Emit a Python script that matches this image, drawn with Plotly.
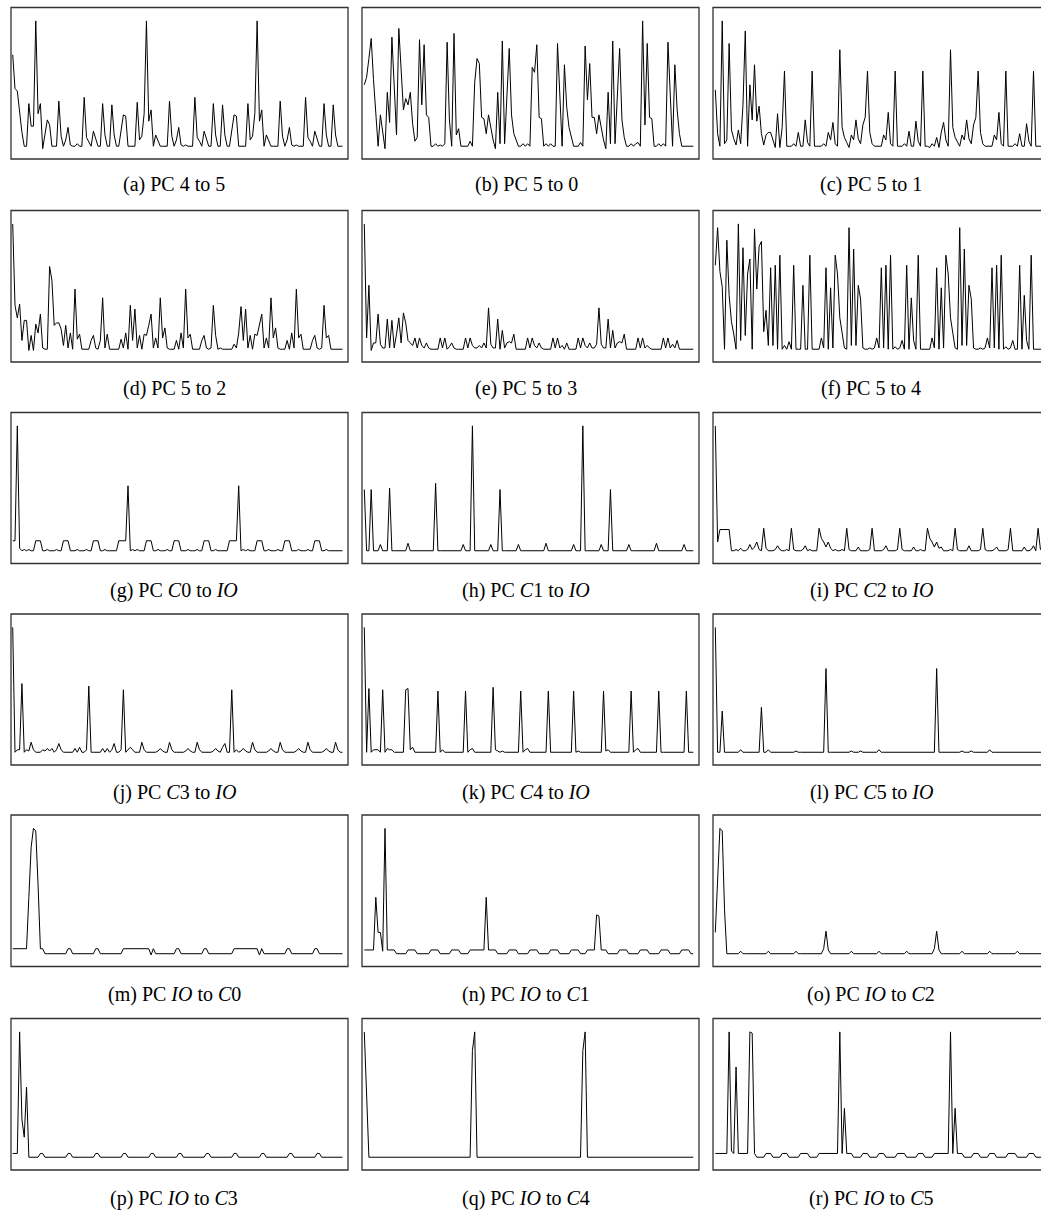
import plotly.graph_objects as go

# values, 0 = baseline, 100 = tallest spike of that panel
pc_4_5 = [73, 46, 44, 25, 11, 0, 0, 34, 16, 16, 100, 26,
          34, -2, 11, 21, 17, 0, 0, 0, 36, 8, 0, 5,
          15, 1, 0, 0, 2, 0, 0, 39, 7, 4, 0, 12,
          5, 0, 0, 34, 9, 0, 0, 33, 9, 0, 0, 12,
          25, 24, 0, 0, 0, 0, 35, 5, 8, 26, 100, 20,
          29, 0, 9, 4, 0, 0, 0, 0, 36, 8, 0, 5,
          15, 1, 0, 1, 0, 0, 0, 39, 7, 4, 0, 12,
          5, 0, 0, 34, 9, 0, 0, 33, 9, 0, 0, 12,
          25, 24, 0, 0, 0, 0, 34, 5, 8, 26, 100, 20,
          29, 0, 9, 4, 0, 0, 0, 0, 36, 8, 0, 5,
          15, 1, 0, 1, 0, 0, 0, 39, 7, 4, 0, 12,
          5, 0, 0, 34, 9, 0, 0, 33, 9, 0, 0, 0]

pc_5_0 = [49, 55, 70, 86, 53, 26, 0, 25, 9, -2, 43, 19,
          87, 45, 9, 94, 59, 29, 38, 33, 43, 18, 4, 7,
          85, 33, 81, 25, 23, 0, 0, 2, 0, 1, 0, 2,
          83, 21, 0, 90, 9, 14, 0, 0, 0, 0, 4, 0,
          51, 70, 66, 23, 22, 10, 25, 14, 5, -2, 43, 2,
          84, 2, 39, 78, 25, 10, 5, 0, 0, 2, 0, 2,
          0, 63, 59, 81, 23, 22, 0, 2, 0, 2, 0, 0,
          82, 42, 0, 65, 31, 15, 7, 0, 0, 0, 3, 0,
          80, 37, 66, 23, 23, 10, 25, 14, 5, -2, 43, 2,
          84, 2, 39, 78, 21, 7, 0, 0, 2, 0, 2, 3,
          0, 100, 17, 82, 23, 22, 0, 0, 2, 0, 2, 0,
          83, 37, 0, 65, 29, 10, 0, 0, 0, 0, 0, 0]

pc_5_1 = [45, 10, 0, 100, 2, 5, 82, 13, 6, 1, 13, 2,
          33, 92, 0, 49, 21, 65, 20, 32, 10, 1, 9, 11,
          11, 5, -1, 26, -1, 15, 60, 0, 0, 0, 2, 0,
          11, 0, 0, 21, 3, 0, 60, 0, 0, 0, 0, 2,
          0, 11, 5, 19, 2, 0, 77, 15, 7, 3, -1, 9,
          5, 21, 6, 2, 17, 23, 60, 11, 2, 0, 0, 0,
          0, 9, 5, 27, 2, 0, 60, 0, 0, 0, 2, 0,
          12, 0, 0, 20, 4, 0, 60, 0, 0, -1, 2, 0,
          7, -1, 11, 19, 5, 0, 77, 15, 7, 3, 0, 9,
          5, 21, 6, 2, 17, 23, 60, 11, 2, 0, 0, 0,
          0, 9, 5, 27, 2, 0, 60, 0, 0, 0, 2, 0,
          10, 0, 0, 18, 4, 0, 60, 0, 0, 0, 0, 0]

pc_5_2 = [100, 35, 25, 36, 7, 23, 23, -1, 11, -1, 20, 13,
          28, 1, 0, 0, 66, 55, 19, 21, 21, 16, 3, 19,
          1, 13, 0, 48, 8, 12, 0, 0, 0, 0, 7, 11,
          1, 0, 7, 41, 1, 12, 0, 0, 0, 0, 0, 8,
          1, 13, 0, 35, 7, 32, 1, 11, 0, 12, 11, 19,
          28, 1, 9, 1, 41, 9, 17, 1, 0, 0, 0, 7,
          0, 13, 1, 48, 9, 12, 0, 0, 0, 0, 7, 11,
          1, 0, 1, 35, 11, 0, 1, 0, 0, 0, 0, 0,
          4, 1, 13, 34, 7, 32, 1, 11, 0, 12, 11, 19,
          28, 1, 9, 1, 41, 9, 17, 1, 0, 0, 0, 7,
          0, 13, 1, 48, 9, 12, 0, 0, 0, 0, 7, 11,
          1, 0, 1, 35, 9, 11, 0, 0, 0, 0, 0, 0]

pc_5_3 = [100, 9, 51, -1, 5, 5, 28, 4, 1, 1, 24, 1,
          23, 1, 12, 25, 5, 29, 21, 7, 5, 3, 9, 1,
          9, 3, 1, 5, 1, 0, 0, 0, 0, 9, 1, 9,
          0, 2, 5, 1, 0, 0, 0, 0, 9, 1, 9, 3,
          1, 1, 3, 1, 5, 1, 33, 4, 1, 1, 24, 0,
          15, 1, 5, 6, 5, 12, 0, 0, 0, 0, 0, 9,
          1, 9, 3, 1, 5, 1, 0, 0, 0, 0, 9, 1,
          9, 1, 3, 0, 5, 0, 0, 0, 0, 9, 1, 9,
          3, 1, 5, 1, 1, 4, 33, 4, 1, 1, 24, 1,
          15, 1, 5, 6, 5, 12, 0, 0, 0, 0, 0, 9,
          1, 9, 1, 3, 1, 0, 0, 0, 0, 0, 9, 1,
          9, 1, 4, 1, 7, 0, 0, 0, 0, 0, 0, 0]

pc_5_4 = [67, 97, 62, 50, 0, 87, 43, 22, 12, 0, 100, 7,
          81, 11, 60, 72, 0, 96, 48, 82, 86, 14, 31, 3,
          65, 3, 67, 0, 75, 0, 3, 0, 6, 0, 67, 0,
          0, 0, 51, 0, 0, 75, 0, 0, 0, 0, 9, 1,
          65, 0, 49, 1, 75, 60, 25, 13, 1, 0, 97, 3,
          80, 3, 51, 40, 1, 0, 0, 1, 0, 1, 9, 1,
          65, 1, 67, 0, 75, 0, 2, 0, 1, 7, 0, 67,
          0, 41, 7, 0, 75, 0, 0, 0, 0, 0, 9, 1,
          65, 0, 49, 1, 75, 60, 25, 13, 1, 0, 97, 3,
          80, 3, 51, 40, 1, 0, 0, 1, 0, 1, 9, 1,
          65, 1, 67, 0, 75, 0, 2, 0, 1, 7, 0, 0,
          67, 0, 43, 7, 0, 75, 0, 0, 0, 0, 0, 0]

pc_c0_io = [8, 8, 100, 2, 0, 1, 0, 1, 0, 0, 8, 8,
            8, 0, 0, 1, 0, 0, 0, 1, 0, 0, 8, 8,
            8, 0, 0, 0, 1, 0, 0, 0, 1, 0, 0, 8,
            8, 8, 0, 0, 1, 0, 0, 0, 0, 0, 8, 8,
            8, 8, 52, 0, 1, 0, 1, 0, 0, 0, 8, 8,
            8, 0, 0, 1, 0, 0, 0, 1, 0, 0, 8, 8,
            8, 0, 0, 0, 1, 0, 0, 0, 1, 0, 0, 8,
            8, 8, 0, 0, 1, 0, 0, 0, 0, 0, 8, 8,
            8, 8, 52, 0, 1, 0, 1, 0, 0, 0, 8, 8,
            8, 0, 0, 1, 0, 0, 0, 1, 0, 0, 8, 8,
            8, 0, 0, 0, 1, 0, 0, 0, 1, 0, 0, 8,
            8, 8, 0, 0, 1, 0, 0, 0, 0, 0, 0, 0]

pc_c1_io = [49, 0, 0, 49, 0, 0, 0, 5, 0, 0, 0, 50,
            0, 0, 0, 0, 0, 0, 0, 6, 0, 0, 0, 0,
            0, 0, 0, 0, 0, 0, 0, 54, 0, 0, 0, 0,
            0, 0, 0, 0, 0, 0, 0, 5, 0, 0, 0, 100,
            0, 0, 0, 0, 0, 0, 0, 5, 0, 0, 0, 49,
            0, 0, 0, 0, 0, 0, 0, 5, 0, 0, 0, 0,
            0, 0, 0, 0, 0, 0, 0, 6, 0, 0, 0, 0,
            0, 0, 0, 0, 0, 0, 0, 5, 0, 0, 0, 100,
            0, 0, 0, 0, 0, 0, 0, 5, 0, 0, 0, 49,
            0, 0, 0, 0, 0, 0, 0, 5, 0, 0, 0, 0,
            0, 0, 0, 0, 0, 0, 0, 6, 0, 0, 0, 0,
            0, 0, 0, 0, 0, 0, 0, 5, 0, 0, 0, 0]

pc_c2_io = [100, 7, 17, 17, 17, 17, 17, 0, 0, 1, 0, 2,
            0, 0, 1, 5, 1, 3, 7, 1, 0, 18, 2, 0,
            0, 0, 1, 4, 1, 0, 0, 1, 0, 18, 1, 0,
            0, 0, 1, 4, 0, 1, 0, 0, 0, 18, 10, 7,
            3, 7, 2, 0, 1, 0, 0, 1, 0, 18, 1, 0,
            0, 0, 3, 0, 0, 0, 0, 1, 18, 0, 0, 0,
            0, 1, 4, 0, 0, 0, 0, 1, 18, 1, 0, 0,
            0, 0, 3, 0, 0, 1, 0, 0, 18, 10, 7, 3,
            7, 2, 3, 0, 0, 0, 1, 0, 18, 1, 0, 0,
            0, 0, 4, 0, 0, 0, 0, 1, 18, 1, 0, 0,
            0, 1, 3, 0, 0, 0, 0, 1, 18, 0, 0, 0,
            0, 0, 3, 0, 0, 1, 4, 0, 18, 1, 0, 0]

pc_c3_io = [100, 0, 2, 2, 55, 0, 2, 1, 8, 2, 0, 0,
            0, 2, 1, 3, 1, 3, 0, 2, 7, 2, 0, 0,
            0, 0, 0, 3, 0, 4, 0, 0, 2, 53, 0, 0,
            0, 0, 0, 3, 0, 3, 0, 2, 7, 0, 0, 2,
            50, 0, 2, 4, 2, 0, 0, 0, 8, 2, 0, 0,
            0, 0, 0, 1, 3, 1, 0, 0, 8, 2, 0, 0,
            0, 0, 0, 1, 3, 1, 0, 0, 8, 2, 0, 0,
            0, 0, 0, 1, 3, 1, 0, 4, 7, 0, 0, 50,
            0, 2, 0, 1, 3, 1, 0, 0, 8, 2, 0, 0,
            0, 0, 0, 1, 3, 1, 0, 0, 8, 2, 0, 0,
            0, 0, 0, 1, 3, 1, 0, 0, 8, 2, 0, 0,
            0, 0, 0, 1, 3, 1, 0, 0, 8, 2, 0, 0]

pc_c4_io = [100, 0, 51, 0, 2, 2, 2, 0, 50, 0, 3, 2,
            2, 0, 0, 0, 0, 0, 50, 51, 2, 4, 0, 0,
            0, 0, 0, 0, 0, 0, 0, 0, 49, 0, 2, 0,
            0, 0, 0, 0, 0, 0, 0, 0, 49, 0, 2, 3,
            0, 0, 0, 0, 0, 0, 0, 0, 52, 2, 1, 0,
            1, 0, 0, 0, 0, 0, 0, 0, 49, 0, 2, 3,
            0, 0, 0, 0, 0, 0, 0, 0, 49, 0, 0, 0,
            0, 0, 0, 0, 0, 0, 0, 49, 0, 1, 0, 0,
            0, 0, 0, 0, 0, 0, 0, 0, 49, 1, 2, 0,
            0, 0, 0, 0, 0, 0, 0, 0, 49, 0, 2, 3,
            0, 0, 0, 0, 0, 0, 0, 0, 49, 0, 0, 0,
            0, 0, 0, 0, 0, 0, 0, 0, 49, 0, 0, 0]

pc_c5_io = [100, 0, 0, 33, 0, 0, 0, 0, 0, 0, 0, 2,
            0, 0, 0, 0, 0, 0, 0, 0, 36, 0, 0, 2,
            0, 0, 0, 0, 0, 0, 0, 0, 0, 0, 0, 1,
            0, 0, 0, 0, 0, 0, 0, 0, 0, 0, 0, 0,
            67, 0, 0, 0, 0, 0, 0, 0, 0, 0, 0, 1,
            0, 0, 0, 1, 0, 0, 0, 0, 0, 0, 0, 2,
            0, 0, 0, 0, 0, 0, 0, 0, 0, 0, 0, 0,
            0, 0, 0, 0, 0, 0, 0, 0, 0, 0, 0, 0,
            67, 0, 0, 0, 0, 0, 0, 0, 0, 0, 0, 1,
            0, 0, 0, 1, 0, 0, 0, 0, 0, 0, 0, 2,
            0, 0, 0, 0, 0, 0, 0, 0, 0, 0, 0, 0,
            0, 0, 0, 0, 0, 0, 0, 0, 0, 0, 0, 0]

pc_io_c0 = [4, 4, 4, 4, 4, 4, 4, 45, 85, 100, 98, 55,
            4, 4, 0, 0, 0, 0, 0, 0, 0, 0, 0, 0,
            4, 4, 0, 0, 0, 0, 0, 0, 0, 0, 0, 0,
            4, 4, 0, 0, 0, 0, 0, 0, 0, 0, 0, 0,
            4, 4, 4, 4, 4, 4, 4, 4, 4, 4, 4, 4,
            -1, 4, 0, 0, 0, 0, 0, 0, 0, 0, 0, 4,
            4, 0, 0, 0, 0, 0, 0, 0, 0, 0, 0, 4,
            4, 0, 0, 0, 0, 0, 0, 0, 0, 0, 0, 0,
            4, 4, 4, 4, 4, 4, 4, 4, 4, 4, 4, -1,
            4, 0, 0, 0, 0, 0, 0, 0, 0, 0, 0, 4,
            4, 0, 0, 0, 0, 0, 0, 0, 0, 0, 0, 4,
            4, 0, 0, 0, 0, 0, 0, 0, 0, 0, 0, 0]

pc_io_c1 = [3, 3, 3, 3, 3, 45, 17, 17, 2, 100, 3, 3,
            3, 3, 0, 0, 0, 0, 0, 3, 3, 3, 3, 0,
            0, 0, 0, 0, 0, 3, 3, 3, 3, 0, 0, 0,
            0, 0, 3, 3, 3, 3, 0, 0, 0, 0, 3, 3,
            3, 3, 3, 3, 3, 45, 3, 3, 3, 3, 0, 0,
            0, 0, 0, 3, 3, 3, 3, 0, 0, 0, 0, 0,
            3, 3, 3, 3, 0, 0, 0, 0, 0, 3, 3, 3,
            3, 0, 0, 0, 0, 0, 3, 3, 3, 3, 0, 0,
            0, 3, 3, 3, 3, 31, 30, 3, 3, 3, 0, 0,
            0, 0, 0, 3, 3, 3, 3, 0, 0, 0, 0, 0,
            3, 3, 3, 3, 0, 0, 0, 0, 0, 3, 3, 3,
            3, 0, 0, 0, 0, 0, 3, 3, 3, 3, 0, 0]

pc_io_c2 = [17, 60, 100, 98, 35, 0, 0, 0, 0, 0, 0, 2,
            0, 0, 0, 0, 0, 0, 0, 0, 0, 0, 0, 2,
            0, 0, 0, 0, 0, 0, 0, 0, 0, 0, 0, 2,
            0, 0, 0, 0, 0, 0, 0, 0, 0, 0, 0, 4,
            18, 3, 0, 0, 0, 0, 0, 0, 0, 0, 0, 2,
            0, 0, 0, 0, 0, 0, 0, 0, 0, 0, 0, 2,
            0, 0, 0, 0, 0, 0, 0, 0, 0, 0, 0, 2,
            0, 0, 0, 0, 0, 0, 0, 0, 0, 0, 0, 4,
            18, 3, 0, 0, 0, 0, 0, 0, 0, 0, 0, 2,
            0, 0, 0, 0, 0, 0, 0, 0, 0, 0, 0, 2,
            0, 0, 0, 0, 0, 0, 0, 0, 0, 0, 0, 2,
            0, 0, 0, 0, 0, 0, 0, 0, 0, 0, 0, 2]

pc_io_c3 = [3, 3, 3, 100, 30, 16, 56, 0, 0, 0, 0, 0,
            3, 3, 0, 0, 0, 0, 0, 0, 0, 0, 0, 0,
            3, 3, 0, 0, 0, 0, 0, 0, 0, 0, 0, 0,
            3, 3, 0, 0, 0, 0, 0, 0, 0, 0, 0, 0,
            3, 3, 0, 0, 0, 0, 0, 0, 0, 0, 0, 0,
            3, 3, 0, 0, 0, 0, 0, 0, 0, 0, 0, 0,
            3, 3, 0, 0, 0, 0, 0, 0, 0, 0, 0, 0,
            3, 3, 0, 0, 0, 0, 0, 0, 0, 0, 0, 0,
            3, 3, 0, 0, 0, 0, 0, 0, 0, 0, 0, 0,
            3, 3, 0, 0, 0, 0, 0, 0, 0, 0, 0, 0,
            3, 3, 0, 0, 0, 0, 0, 0, 0, 0, 0, 0,
            3, 3, 0, 0, 0, 0, 0, 0, 0, 0, 0, 0]

pc_io_c4 = [100, 56, 0, 0, 0, 0, 0, 0, 0, 0, 0, 0,
            0, 0, 0, 0, 0, 0, 0, 0, 0, 0, 0, 0,
            0, 0, 0, 0, 0, 0, 0, 0, 0, 0, 0, 0,
            0, 0, 0, 0, 0, 0, 0, 0, 0, 0, 0, 85,
            100, 0, 0, 0, 0, 0, 0, 0, 0, 0, 0, 0,
            0, 0, 0, 0, 0, 0, 0, 0, 0, 0, 0, 0,
            0, 0, 0, 0, 0, 0, 0, 0, 0, 0, 0, 0,
            0, 0, 0, 0, 0, 0, 0, 0, 0, 0, 0, 85,
            100, 0, 0, 0, 0, 0, 0, 0, 0, 0, 0, 0,
            0, 0, 0, 0, 0, 0, 0, 0, 0, 0, 0, 0,
            0, 0, 0, 0, 0, 0, 0, 0, 0, 0, 0, 0,
            0, 0, 0, 0, 0, 0, 0, 0, 0, 0, 0, 0]

pc_io_c5 = [3, 3, 3, 3, 3, 3, 100, 5, 3, 72, 3, 3,
            3, 3, 3, 100, 99, 3, 0, 0, 0, 0, 3, 3,
            3, 0, 0, 0, 0, 3, 3, 3, 0, 0, 0, 0,
            0, 3, 3, 3, 3, 0, 0, 0, 0, 3, 3, 3,
            3, 3, 3, 3, 3, 3, 100, 3, 39, 3, 3, 3,
            0, 0, 0, 0, 3, 3, 3, 0, 0, 0, 0, 3,
            3, 3, 0, 0, 0, 0, 0, 3, 3, 3, 3, 0,
            0, 0, 0, 0, 3, 3, 3, 0, 0, 0, 0, 3,
            3, 3, 3, 3, 3, 3, 100, 3, 39, 3, 3, 3,
            0, 0, 0, 0, 3, 3, 3, 0, 0, 0, 0, 3,
            3, 3, 0, 0, 0, 0, 0, 3, 3, 3, 3, 0,
            0, 0, 0, 0, 3, 3, 3, 0, 0, 0, 0, 3]

series = [pc_4_5, pc_5_0, pc_5_1,
          pc_5_2, pc_5_3, pc_5_4,
          pc_c0_io, pc_c1_io, pc_c2_io,
          pc_c3_io, pc_c4_io, pc_c5_io,
          pc_io_c0, pc_io_c1, pc_io_c2,
          pc_io_c3, pc_io_c4, pc_io_c5]

captions = ["(a) PC 4 to 5", "(b) PC 5 to 0", "(c) PC 5 to 1",
            "(d) PC 5 to 2", "(e) PC 5 to 3", "(f) PC 5 to 4",
            "(g) PC <i>C</i>0 to <i>IO</i>", "(h) PC <i>C</i>1 to <i>IO</i>", "(i) PC <i>C</i>2 to <i>IO</i>",
            "(j) PC <i>C</i>3 to <i>IO</i>", "(k) PC <i>C</i>4 to <i>IO</i>", "(l) PC <i>C</i>5 to <i>IO</i>",
            "(m) PC <i>IO</i> to <i>C</i>0", "(n) PC <i>IO</i> to <i>C</i>1", "(o) PC <i>IO</i> to <i>C</i>2",
            "(p) PC <i>IO</i> to <i>C</i>3", "(q) PC <i>IO</i> to <i>C</i>4", "(r) PC <i>IO</i> to <i>C</i>5"]

# page geometry in pixels (the right column runs off the page edge)
W, H = 1041, 1218
col_left = [11, 362, 713]
col_right = [348, 699, 1050]
col_xrange = [(-0.74, 145.4), (-1.0, 145.5), (-1.0, 141.25)]
row_top = [7.5, 210.5, 412.5, 614, 815, 1018.5]
row_bottom = [159, 362, 563.5, 765, 966.5, 1170]
caption_x = [174, 526, 871]
caption_y = [185, 388, 590, 792, 994, 1198]

fig = go.Figure()
layout = {}
shapes = []
annotations = []

for k, vals in enumerate(series):
    r, c = divmod(k, 3)
    ax = "" if k == 0 else str(k + 1)
    fig.add_trace(go.Scatter(
        x=list(range(len(vals))), y=vals,
        mode="lines", line=dict(color="black", width=1),
        xaxis="x" + ax, yaxis="y" + ax,
        showlegend=False, hoverinfo="skip"
    ))
    x_dom = [col_left[c] / W, min(col_right[c], W) / W]
    y_dom = [1 - row_bottom[r] / H, 1 - row_top[r] / H]
    layout["xaxis" + ax] = dict(domain=x_dom, range=list(col_xrange[c]), visible=False,
                                anchor="y" + ax, fixedrange=True)
    layout["yaxis" + ax] = dict(domain=y_dom, range=[-10.2, 110.7], visible=False,
                                anchor="x" + ax, fixedrange=True)
    # panel frame; on the right column it extends past the page edge
    shapes.append(dict(type="rect", xref="paper", yref="paper",
                       x0=col_left[c] / W, x1=col_right[c] / W,
                       y0=y_dom[0], y1=y_dom[1],
                       line=dict(color="#333333", width=1.3)))
    annotations.append(dict(text=captions[k], xref="paper", yref="paper",
                            x=caption_x[c] / W, y=1 - caption_y[r] / H,
                            xanchor="center", yanchor="middle", showarrow=False,
                            font=dict(family="Liberation Serif, Times New Roman, serif",
                                      size=20, color="black")))

fig.update_layout(
    **layout,
    shapes=shapes,
    annotations=annotations,
    width=W, height=H,
    margin=dict(l=0, r=0, t=0, b=0),
    paper_bgcolor="white",
    plot_bgcolor="white",
)

# drop the browser's default 8px page margin so the figure sits at the top-left corner
fig.write_html("out.html", config={"displayModeBar": False},
               post_script="document.body.style.margin = '0px';")
